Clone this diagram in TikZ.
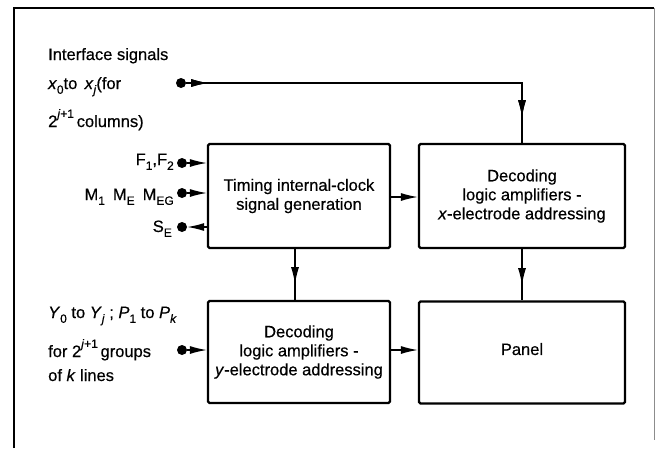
\documentclass[tikz,border=0pt]{standalone}
\usepackage{fontspec}
\setmainfont{Liberation Sans}[FakeBold=0.5]
\usetikzlibrary{arrows.meta,decorations.markings}
\newcommand{\lo}[1]{\raisebox{-0.55ex}{\fontsize{12}{12}\selectfont #1}}
\newcommand{\hi}[1]{\raisebox{1.05ex}{\fontsize{12}{12}\selectfont #1}}
\tikzset{
  blk/.style={draw, line width=2.3pt, rounded corners=1.5pt, align=center, inner sep=2pt},
  conn/.style={line width=1.3pt},
  tip/.style={-{Latex[length=17pt,width=8pt]}},
  dotn/.style={circle, fill=black, inner sep=0pt, minimum size=10pt},
  lbl/.style={inner sep=0pt},
  marr/.style={postaction={decorate}, decoration={markings, mark=at position #1 with {\arrow{Latex[length=17pt,width=8pt]}}}}
}
\begin{document}
\begin{tikzpicture}[x=1pt, y=-1pt, font=\fontsize{16.5}{19}\selectfont]
\useasboundingbox (0,0) rectangle (655,448);
% frame
\draw[line width=1.3pt] (14,448) -- (14,8) -- (654,8);
\draw[black!45, line width=0.8pt] (654,8) -- (654,440);

% blocks
\node[blk, minimum width=182pt, minimum height=104pt] (timing) at (299,196) {Timing internal-clock\\signal generation};
\node[blk, minimum width=206pt, minimum height=104pt] (xdec) at (522,196) {Decoding\\logic amplifiers -\\\textit{x}-electrode addressing};
\node[blk, minimum width=182pt, minimum height=102pt] (ydec) at (299,352) {Decoding\\logic amplifiers -\\\textit{y}-electrode addressing};
\node[blk, minimum width=206pt, minimum height=102pt] (panel) at (522,352.5) {\raisebox{7pt}{Panel}};

% left labels
\node[lbl, anchor=base west] (t1) at (48,60) {Interface signals};
\node[lbl, anchor=base west] (t2) at (48,89) {\textit{x}\lo{0}to \,\textit{x}\lo{\textit{j}}(for};
\node[lbl, anchor=base west] (t3) at (48,127) {2\hi{\textit{j}+1}\,columns)};

\node[lbl, anchor=base east] (lf) at (174,165) {F\lo{1},F\lo{2}};
\node[lbl, anchor=base east] (lm) at (174,200) {M\lo{1}\hspace{8pt}M\lo{E}\hspace{8pt}M\lo{EG}};
\node[lbl, anchor=base east] (ls) at (172,232) {S\lo{E}};

\node[lbl, anchor=base west] (y1) at (48,318) {\textit{Y}\lo{0} to \textit{Y}\lo{\textit{j}} ; \textit{P}\lo{1} to \textit{P}\lo{\textit{k}}};
\node[lbl, anchor=base west] (y2) at (48,357) {for 2\hi{\textit{j}+1}\,groups};
\node[lbl, anchor=base west] (y3) at (48,381) {of \textit{k} lines};

% dots
\node[dotn] (dx) at (181,83) {};
\node[dotn] (df) at (182,163) {};
\node[dotn] (dm) at (182,193) {};
\node[dotn] (ds) at (182,227) {};
\node[dotn] (dy) at (182,350) {};

% connectors
\draw[conn, marr=22pt, marr=370pt] (dx) -| (xdec.north);
\draw[conn, tip] (df) -- (df -| timing.west);
\draw[conn, tip] (dm) -- (dm -| timing.west);
\draw[conn, tip] (ds -| timing.west) -- (ds);
\draw[conn, tip] (dy) -- (dy -| ydec.west);
\draw[conn, tip] (timing.east |- 0,197) -- (xdec.west |- 0,197);
\draw[conn, tip] (ydec.east |- 0,350) -- (panel.west |- 0,350);
\draw[conn, marr=36pt] (xdec.south) -- (panel.north);
\draw[conn, marr=35pt] (timing.south -| 295,0) -- (ydec.north -| 295,0);
\end{tikzpicture}
\end{document}
